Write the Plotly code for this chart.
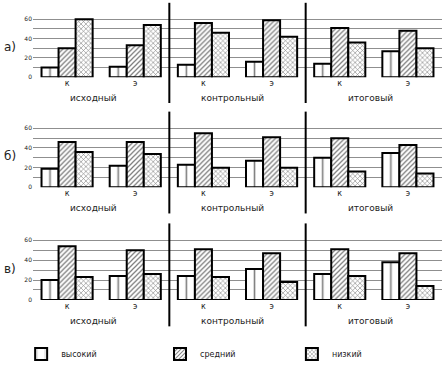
import plotly.graph_objects as go

groups = ["исходный", "контрольный", "итоговый"]
subs = ["к", "э"]
cats = [g + " " + s for g in groups for s in subs]
tick_text = [s for g in groups for s in subs]
series = ["высокий", "средний", "низкий"]
panel_labels = ["а)", "б)", "в)"]

high_a = [10, 11, 13, 16, 14, 27]
mid_a = [30, 33, 56, 59, 51, 48]
low_a = [60, 54, 46, 42, 36, 30]

high_b = [19, 22, 23, 27, 30, 35]
mid_b = [46, 46, 55, 51, 50, 43]
low_b = [36, 34, 20, 20, 16, 14]

high_c = [20, 24, 24, 31, 26, 38]
mid_c = [54, 50, 51, 47, 51, 47]
low_c = [23, 26, 23, 18, 24, 14]

panels = [(high_a, mid_a, low_a), (high_b, mid_b, low_b), (high_c, mid_c, low_c)]

W_PX = 447
H_PX = 368
ML, MR = 33, 5
plot_w = W_PX - ML - MR
cat_w = plot_w / len(cats)
BARGAP = 0.25

patterns = [
    dict(shape="|", size=cat_w / 2, solidity=1.6 / (cat_w / 2), fgcolor="black", bgcolor="white"),
    dict(shape="/", size=3.5, solidity=0.36, fgcolor="black", bgcolor="white"),
    dict(shape="x", size=3.4, solidity=0.32, fgcolor="black", bgcolor="white"),
]

ydomains = [[0.790, 0.974], [0.491, 0.678], [0.185, 0.374]]
legend_names = ["legend", "legend2", "legend3"]
legend_x = [-0.029, 0.3105, 0.633]

fig = go.Figure()
FONT = "DejaVu Sans"

for p, vals in enumerate(panels):
    xa = "x" if p == 0 else f"x{p+1}"
    ya = "y" if p == 0 else f"y{p+1}"
    for s, name in enumerate(series):
        fig.add_trace(go.Bar(
            x=cats, y=vals[s], name=name, xaxis=xa, yaxis=ya,
            legendgroup=name, showlegend=(p == 0), legend=legend_names[s],
            marker=dict(color="white", line=dict(color="black", width=2),
                        pattern=patterns[s]),
        ))
    axkey = "xaxis" if p == 0 else f"xaxis{p+1}"
    aykey = "yaxis" if p == 0 else f"yaxis{p+1}"
    fig.layout[axkey] = dict(
        domain=[0, 1], anchor=ya, type="category", range=[-0.5, 5.5],
        tickvals=cats, ticktext=tick_text, ticks="", showgrid=False,
        showline=False, zeroline=False, automargin=False,
        tickfont=dict(size=8, color="#222", family=FONT),
    )
    fig.layout[aykey] = dict(
        domain=ydomains[p], anchor=xa, range=[0, 70],
        tickvals=[0, 10, 20, 30, 40, 50, 60, 70],
        ticktext=["0", "", "20", "", "40", "", "60", ""],
        showgrid=True, gridcolor="#8f8f8f", gridwidth=1,
        zeroline=False, showline=False, ticks="", automargin=False,
        tickfont=dict(size=6, color="#222", family=FONT),
    )
    yd = "y domain" if p == 0 else f"y{p+1} domain"
    xr = "x" if p == 0 else f"x{p+1}"
    for gi, g in enumerate(groups):
        fig.add_annotation(
            xref=xr, yref=yd, x=2 * gi + 0.5, y=-0.30, text=g, showarrow=False,
            font=dict(size=9, color="#222", family=FONT), yanchor="middle",
            xshift=[-8, -5, -3][gi],
        )
    for sep in [1.5, 3.5]:
        fig.add_shape(type="line", xref=xr, yref=yd, x0=sep, x1=sep,
                      y0=-0.38, y1=1.1, line=dict(color="black", width=2))
    fig.add_annotation(
        xref="paper", yref=yd, x=-0.077, y=0.45, text=panel_labels[p],
        showarrow=False, xanchor="left",
        font=dict(size=12, color="#222", family=FONT),
    )

legend_common = dict(orientation="h", xanchor="left", y=0.038, yanchor="middle",
                     font=dict(size=8, color="#222", family=FONT),
                     bgcolor="rgba(0,0,0,0)")

fig.update_layout(
    width=W_PX, height=H_PX,
    margin=dict(l=ML, r=MR, t=0, b=0, autoexpand=False),
    paper_bgcolor="white", plot_bgcolor="white",
    barmode="group", bargap=BARGAP, bargroupgap=0,
    font=dict(family=FONT, size=8, color="#222"),
    legend=dict(x=legend_x[0], **legend_common),
    legend2=dict(x=legend_x[1], **legend_common),
    legend3=dict(x=legend_x[2], **legend_common),
)

fig.write_html("out.html", config={"displayModeBar": False},
               post_script="document.body.style.margin='0';")
